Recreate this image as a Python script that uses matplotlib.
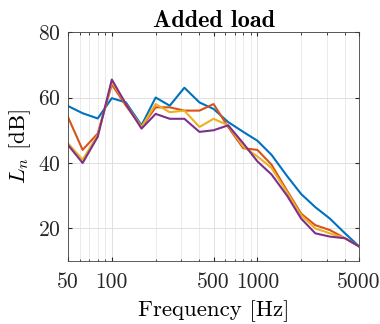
import matplotlib
matplotlib.use('Agg')
import matplotlib.pyplot as plt
from matplotlib.ticker import FixedLocator, NullFormatter

plt.rcParams['mathtext.fontset'] = 'cm'
plt.rcParams['font.family'] = ['cmr10', 'DejaVu Serif']
plt.rcParams['axes.formatter.use_mathtext'] = True

# third-octave band centre frequencies
freq = [50, 63, 80, 100, 125, 160, 200, 250, 315, 400, 500, 630, 800,
        1000, 1250, 1600, 2000, 2500, 3150, 4000, 5000]

ln_blue = [57.4, 55.2, 53.6, 59.8, 58.5, 51.5, 60.0, 57.5, 63.0, 58.5, 56.5,
           52.5, 49.5, 46.8, 42.5, 36.0, 30.5, 26.5, 23.0, 18.5, 14.5]
ln_orange = [54.0, 44.0, 49.0, 64.0, 57.5, 51.0, 57.0, 57.0, 56.0, 56.0, 58.0,
             51.0, 44.5, 44.0, 39.5, 31.5, 24.5, 21.0, 19.5, 17.0, 14.5]
ln_yellow = [46.0, 41.0, 48.5, 64.8, 58.0, 51.0, 58.0, 55.5, 56.0, 51.0, 53.5,
             51.5, 45.0, 42.0, 38.5, 31.0, 24.0, 20.0, 18.5, 17.0, 14.5]
ln_purple = [45.5, 40.0, 48.0, 65.5, 58.0, 50.5, 55.0, 53.5, 53.5, 49.5, 50.0,
             51.5, 46.0, 40.5, 36.5, 30.0, 23.0, 18.5, 17.5, 17.0, 14.5]

xticks = [50, 100, 500, 1000, 5000]
yticks = [20, 40, 60, 80]

fig = plt.figure(figsize=(3.8, 3.24), dpi=100)
ax = fig.add_axes([0.179, 0.194, 0.766, 0.707])

ax.plot(freq, ln_blue, color='#0072BD', lw=1.5)
ax.plot(freq, ln_orange, color='#D95319', lw=1.5)
ax.plot(freq, ln_yellow, color='#EDB120', lw=1.5)
ax.plot(freq, ln_purple, color='#7E2F8E', lw=1.5)

ax.set_xscale('log')
ax.set_xlim(50, 5000)
ax.set_ylim(10, 80)
ax.xaxis.set_major_locator(FixedLocator(xticks))
ax.set_xticklabels([str(t) for t in xticks])
minor = [f * d for d in (10, 100, 1000) for f in range(2, 10)]
ax.xaxis.set_minor_locator(FixedLocator([m for m in minor if 50 <= m <= 5000]))
ax.xaxis.set_minor_formatter(NullFormatter())
ax.set_yticks(yticks)

ax.grid(True, which='major', color='#e0e0e0', lw=0.7)
ax.grid(True, which='minor', axis='x', color='#e8e8e8', lw=0.6)
ax.set_axisbelow(True)
ax.tick_params(which='both', direction='in', top=True, right=True,
               labelsize=15.5, colors='#262626', length=3)
ax.tick_params(axis='x', which='major', pad=8)
ax.tick_params(axis='y', which='major', pad=5)
ax.tick_params(which='minor', length=1.8)
for s in ax.spines.values():
    s.set_color('#404040')
    s.set_linewidth(0.6)

ax.set_title('Added load', fontfamily='cmb10', fontsize=17.5, pad=3)
ax.set_xlabel('Frequency [Hz]', fontsize=16.5, labelpad=6)
ax.set_ylabel('$L_n$ [dB]', fontsize=16.5, labelpad=4)

fig.savefig('out.png', dpi=100)
